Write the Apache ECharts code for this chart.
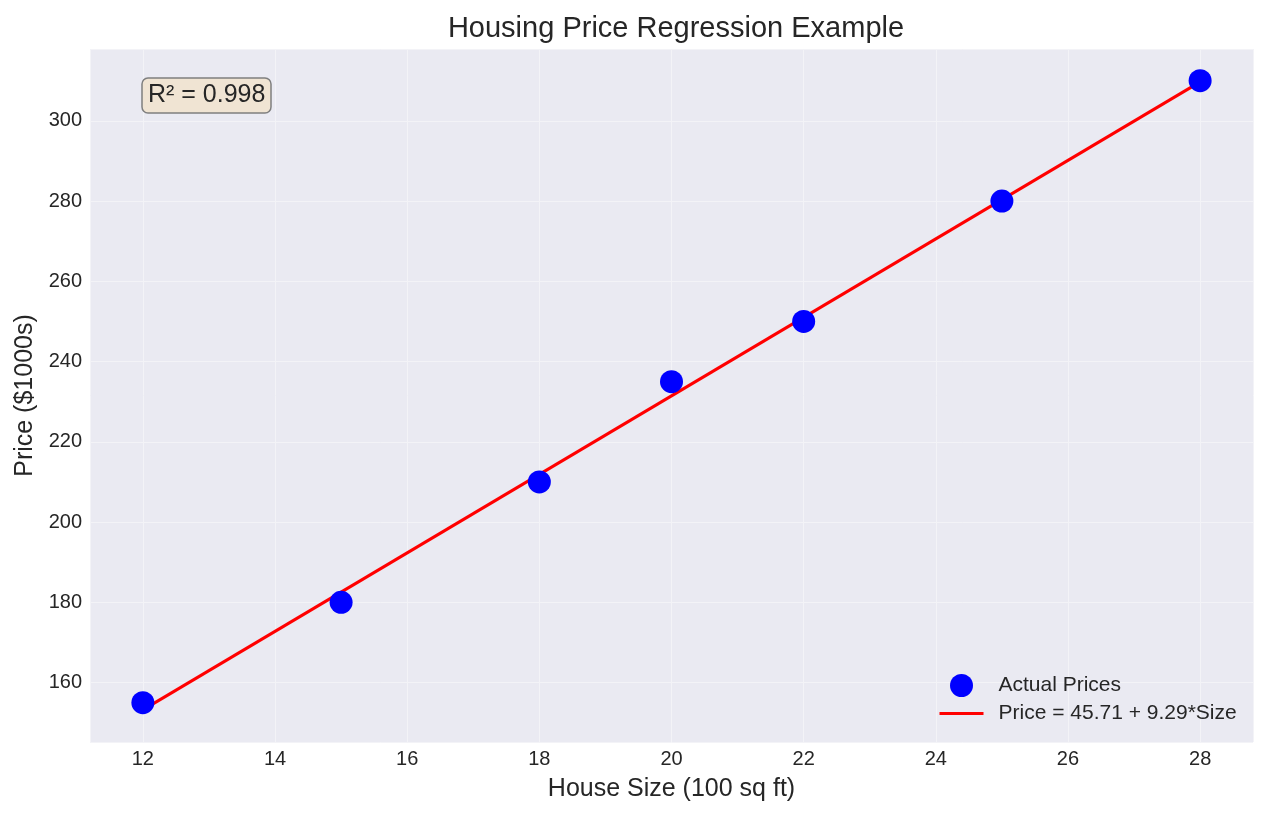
<!DOCTYPE html>
<html>
<head>
<meta charset="utf-8">
<script src="https://cdn.jsdelivr.net/npm/echarts@6/dist/echarts.min.js"></script>
<style>
html,body{margin:0;padding:0;background:#fff;}
#main{width:1267px;height:815px;}
</style>
</head>
<body>
<div id="main"></div>
<script>
// Data
const houseSize = [12, 15, 18, 20, 22, 25, 28];
const price = [155, 180, 210, 235, 250, 280, 310];
// Fitted line endpoints as drawn in the picture
const fitX = [12, 28];
const fitY = [153.2, 309.7];
const scatterName = 'Actual Prices';
const lineName = 'Price = 45.71 + 9.29*Size';
const rSquaredText = 'R² = 0.998';

const chart = echarts.init(document.getElementById('main'), null, {renderer: 'canvas'});
const font = 'Liberation Sans, Arial, sans-serif';
const txt = '#262626';

const option = {
  backgroundColor: '#ffffff',
  animation: false,
  title: [
    {
      text: 'Housing Price Regression Example',
      left: 671,
      top: 9,
      textAlign: 'center',
      textStyle: {fontFamily: font, fontSize: 29, fontWeight: 'normal', color: txt}
    },
    {
      text: rSquaredText,
      left: 142,
      top: 78,
      padding: [3, 6, 3, 6],
      backgroundColor: '#F0E4D3',
      borderColor: '#7f7f7f',
      borderWidth: 1.5,
      borderRadius: 6,
      textStyle: {fontFamily: font, fontSize: 25, fontWeight: 'normal', color: txt, lineHeight: 29}
    }
  ],
  grid: {left: 90, right: 14, top: 49, bottom: 73, show: true, backgroundColor: '#EAEAF2', borderWidth: 0},
  legend: {
    orient: 'vertical',
    left: 938,
    top: 674,
    padding: 0,
    itemWidth: 44,
    itemHeight: 23,
    itemGap: 6,
    data: [
      {name: scatterName},
      {name: lineName, itemStyle: {opacity: 0}, lineStyle: {width: 3, color: '#FF0000'}}
    ],
    textStyle: {fontFamily: font, fontSize: 21, color: txt, padding: [0, 0, 0, 10]}
  },
  xAxis: {
    type: 'value',
    min: 11.2,
    max: 28.8,
    splitNumber: 9,
    minInterval: 2,
    maxInterval: 2,
    name: 'House Size (100 sq ft)',
    nameLocation: 'middle',
    nameGap: 35,
    nameTextStyle: {fontFamily: font, fontSize: 25, color: txt},
    axisLine: {show: false},
    axisTick: {show: false},
    axisLabel: {fontFamily: font, fontSize: 20, color: txt, margin: 7, showMinLabel: false, showMaxLabel: false},
    splitLine: {show: true, lineStyle: {color: '#F3F3F7', width: 1}}
  },
  yAxis: {
    type: 'value',
    min: 145.2,
    max: 317.9,
    splitNumber: 8,
    minInterval: 20,
    maxInterval: 20,
    name: 'Price ($1000s)',
    nameLocation: 'middle',
    nameGap: 50,
    nameTextStyle: {fontFamily: font, fontSize: 25, color: txt},
    axisLine: {show: false},
    axisTick: {show: false},
    axisLabel: {fontFamily: font, fontSize: 20, color: txt, margin: 8, showMinLabel: false, showMaxLabel: false},
    splitLine: {show: true, lineStyle: {color: '#F3F3F7', width: 1}}
  },
  series: [
    {
      name: lineName,
      type: 'line',
      data: fitX.map((x, i) => [x, fitY[i]]),
      symbol: 'none',
      lineStyle: {color: '#FF0000', width: 3},
      itemStyle: {color: '#FF0000'},
      z: 2
    },
    {
      name: scatterName,
      type: 'scatter',
      data: houseSize.map((x, i) => [x, price[i]]),
      symbolSize: 23,
      itemStyle: {color: '#0000FF', opacity: 1},
      z: 3
    }
  ]
};
chart.setOption(option);
</script>
</body>
</html>
